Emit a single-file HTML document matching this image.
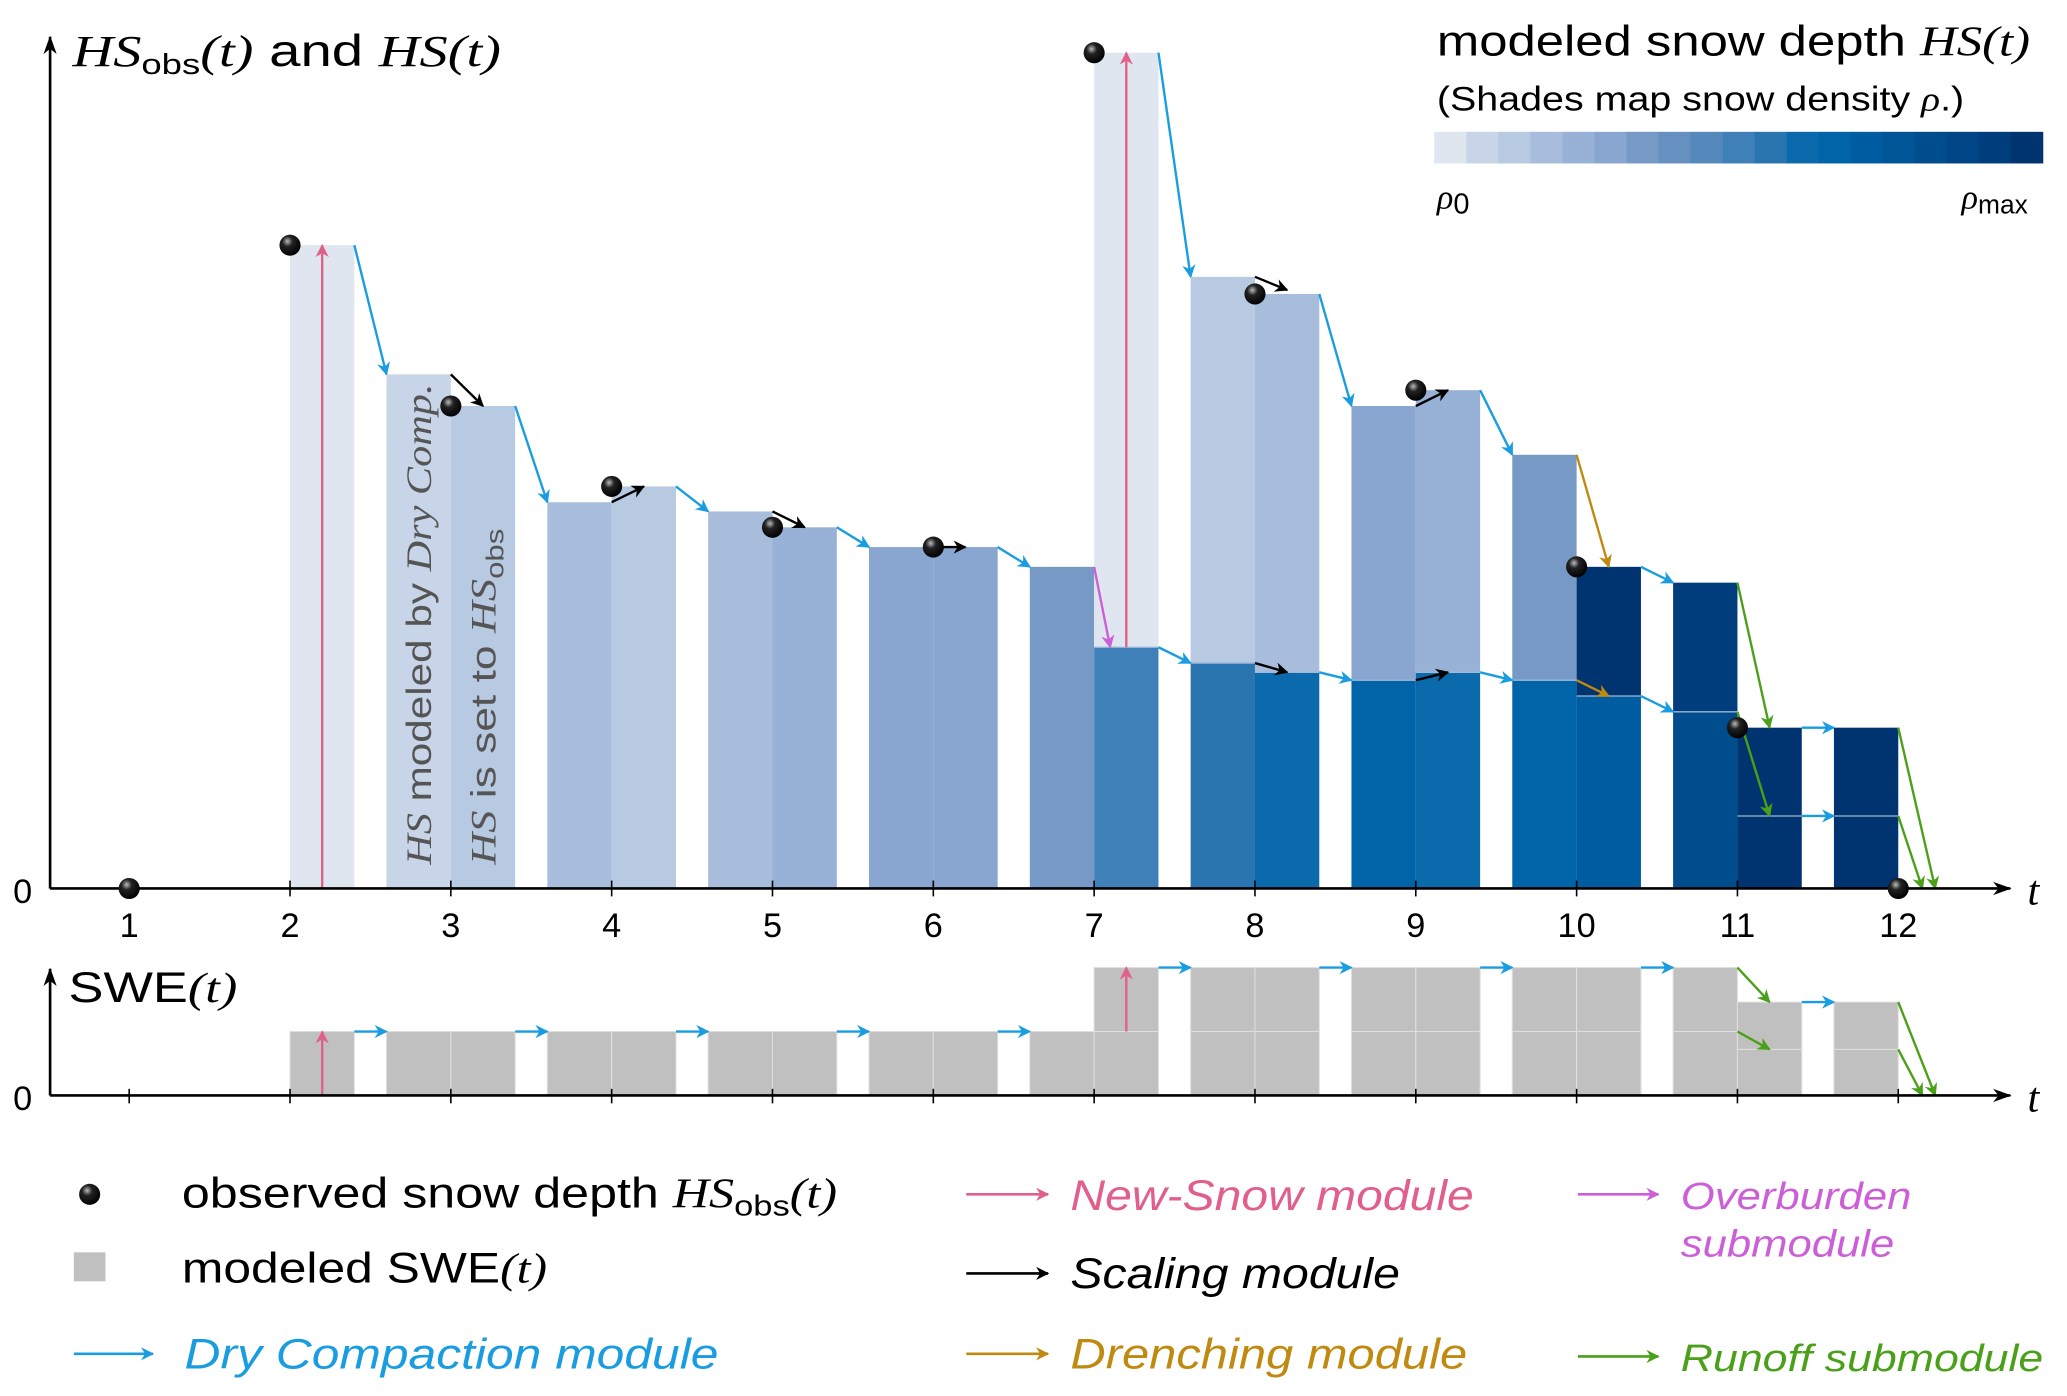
<!DOCTYPE html>
<html><head><meta charset="utf-8"><style>
html,body{margin:0;padding:0;background:#fff;}
svg{display:block;font-family:"Liberation Sans","DejaVu Sans",sans-serif;}
.it{font-family:"Liberation Serif",serif;font-style:italic;}
</style></head><body>
<svg id="chart" width="2067" height="1396" viewBox="0 0 1568 1059" preserveAspectRatio="none" xmlns="http://www.w3.org/2000/svg">
<defs>
<marker id="m-blue" markerWidth="10" markerHeight="10" refX="9" refY="5" orient="auto" markerUnits="userSpaceOnUse"><path d="M0,0 L10,5 L0,10 L3,5 Z" fill="#1a9de0"/></marker>
<marker id="m-black" markerWidth="10" markerHeight="10" refX="9" refY="5" orient="auto" markerUnits="userSpaceOnUse"><path d="M0,0 L10,5 L0,10 L3,5 Z" fill="#000"/></marker>
<marker id="m-pink" markerWidth="10" markerHeight="10" refX="9" refY="5" orient="auto" markerUnits="userSpaceOnUse"><path d="M0,0 L10,5 L0,10 L3,5 Z" fill="#e0608a"/></marker>
<marker id="m-mag" markerWidth="10" markerHeight="10" refX="9" refY="5" orient="auto" markerUnits="userSpaceOnUse"><path d="M0,0 L10,5 L0,10 L3,5 Z" fill="#cc5fd8"/></marker>
<marker id="m-gold" markerWidth="10" markerHeight="10" refX="9" refY="5" orient="auto" markerUnits="userSpaceOnUse"><path d="M0,0 L10,5 L0,10 L3,5 Z" fill="#c08a10"/></marker>
<marker id="m-green" markerWidth="10" markerHeight="10" refX="9" refY="5" orient="auto" markerUnits="userSpaceOnUse"><path d="M0,0 L10,5 L0,10 L3,5 Z" fill="#4aa018"/></marker>
<marker id="m-axis" markerWidth="14" markerHeight="10" refX="13" refY="5" orient="auto" markerUnits="userSpaceOnUse"><path d="M0,0 L14,5 L0,10 L4,5 Z" fill="#000"/></marker>
<radialGradient id="ball" cx="0.38" cy="0.32" r="0.7"><stop offset="0" stop-color="#bbb"/><stop offset="0.35" stop-color="#222"/><stop offset="1" stop-color="#000"/></radialGradient>
</defs>
<g id="hs-bars"></g>
<g id="swe-bars"></g>
<g id="arrows"></g>
<g id="axes"></g>
<g id="dots"></g>
<g fill="#555" font-size="27">
<text transform="translate(327,656) rotate(-90)" textLength="365" lengthAdjust="spacingAndGlyphs"><tspan class="it">HS</tspan> modeled by <tspan class="it">Dry Comp.</tspan></text>
<text transform="translate(376,656) rotate(-90)" textLength="255" lengthAdjust="spacingAndGlyphs"><tspan class="it">HS</tspan> is set to <tspan class="it">HS</tspan><tspan font-size="19" dy="6">obs</tspan></text>
</g>
<text x="55" y="50" font-size="34" textLength="325" lengthAdjust="spacingAndGlyphs"><tspan class="it">HS</tspan><tspan font-size="22" dy="6">obs</tspan><tspan dy="-6" class="it">(t)</tspan> and <tspan class="it">HS</tspan><tspan class="it">(t)</tspan></text>
<text x="52" y="760" font-size="32" textLength="128" lengthAdjust="spacingAndGlyphs">SWE<tspan class="it">(t)</tspan></text>
<text x="10" y="685" font-size="26">0</text>
<text x="10" y="842" font-size="26">0</text>
<text x="1538" y="686" font-size="32" class="it">t</text>
<text x="1538" y="843" font-size="32" class="it">t</text>
<g>
<text x="1090" y="42" font-size="32" textLength="450" lengthAdjust="spacingAndGlyphs">modeled snow depth <tspan class="it">HS(t)</tspan></text>
<text x="1090" y="84" font-size="26" textLength="400" lengthAdjust="spacingAndGlyphs">(Shades map snow density <tspan class="it">ρ</tspan>.)</text>
<g id="colorbar"></g>
<text x="1090" y="158" font-size="26"><tspan class="it">ρ</tspan><tspan dy="4" font-size="22">0</tspan></text>
<text x="1488" y="158" font-size="26"><tspan class="it">ρ</tspan><tspan dy="4" font-size="20">max</tspan></text>
</g>
<g font-size="32">
<circle cx="68" cy="906" r="8" fill="url(#ball)"/>
<text x="138" y="916" textLength="497" lengthAdjust="spacingAndGlyphs">observed snow depth <tspan class="it">HS</tspan><tspan font-size="22" dy="6">obs</tspan><tspan dy="-6" class="it">(t)</tspan></text>
<rect x="56" y="950" width="24" height="22" fill="#c0c0c0"/>
<text x="138" y="973" textLength="277" lengthAdjust="spacingAndGlyphs">modeled SWE<tspan class="it">(t)</tspan></text>
<line x1="56" y1="1027" x2="116" y2="1027" stroke="#1a9de0" stroke-width="2" marker-end="url(#m-blue)"/>
<text x="140" y="1038" fill="#1a9de0" font-style="italic" textLength="405" lengthAdjust="spacingAndGlyphs">Dry Compaction module</text>
<line x1="733" y1="906" x2="795" y2="906" stroke="#e0608a" stroke-width="2" marker-end="url(#m-pink)"/>
<text x="812" y="918" fill="#e0608a" font-style="italic" textLength="306" lengthAdjust="spacingAndGlyphs">New-Snow module</text>
<line x1="733" y1="966" x2="795" y2="966" stroke="#000" stroke-width="2" marker-end="url(#m-black)"/>
<text x="812" y="977" font-style="italic" textLength="250" lengthAdjust="spacingAndGlyphs">Scaling module</text>
<line x1="733" y1="1027" x2="795" y2="1027" stroke="#c08a10" stroke-width="2" marker-end="url(#m-gold)"/>
<text x="812" y="1038" fill="#c08a10" font-style="italic" textLength="301" lengthAdjust="spacingAndGlyphs">Drenching module</text>
<line x1="1197" y1="906" x2="1258" y2="906" stroke="#cc5fd8" stroke-width="2" marker-end="url(#m-mag)"/>
<text x="1275" y="917" fill="#cc5fd8" font-style="italic" font-size="29" textLength="175" lengthAdjust="spacingAndGlyphs">Overburden</text>
<text x="1275" y="953" fill="#cc5fd8" font-style="italic" font-size="29" textLength="162" lengthAdjust="spacingAndGlyphs">submodule</text>
<line x1="1197" y1="1029" x2="1258" y2="1029" stroke="#4aa018" stroke-width="2" marker-end="url(#m-green)"/>
<text x="1275" y="1040" fill="#4aa018" font-style="italic" font-size="29" textLength="275" lengthAdjust="spacingAndGlyphs">Runoff submodule</text>
</g>
</svg>
<script>
const NS='http://www.w3.org/2000/svg';
const shades=['#dfe6f0','#c8d4e7','#b8c9e2','#a8bddb','#98b1d6','#88a6cf','#7699c6','#6690c0','#5689bb','#4080b8','#2a74b0','#0a6aab','#0064a8','#005ca0','#005597','#004d8e','#004585','#003d7c','#003470'];
const tickLabels=['1','2','3','4','5','6','7','8','9','10','11','12'];
// HS bar segments: period t, side (-1 left / +1 right), low, high, shade index
const barT   =[2, 3,3, 4,4, 5,5, 6,6, 7, 7,7, 8,8,8,8, 9,9,9,9, 10,10,10,10, 11,11,11,11, 12,12];
const barSide=[1,-1,1,-1,1,-1,1,-1,1,-1, 1,1,-1,-1,1,1,-1,-1,1,1, -1,-1,1,1, -1,-1,1,1, -1,-1];
const barLow =[0, 0,0, 0,0, 0,0, 0,0, 0, 0,18.3, 0,17.1,0,16.4, 0,15.8,0,16.4, 0,15.8,0,14.6, 0,13.4,0,5.5, 0,5.5];
const barHigh=[48.8,39,36.6,29.3,30.5,28.6,27.4,25.9,25.9,24.4, 18.3,63.4, 17.1,46.4,16.4,45.1, 15.8,36.6,16.4,37.8, 15.8,32.9,14.6,24.4, 13.4,23.2,5.5,12.2, 5.5,12.2];
const barShade=[0,1,2,3,2,3,4,5,5,6, 9,0, 10,2,11,3, 12,5,11,4, 12,6,13,18, 15,17,18,18, 18,18];
// SWE segments
const sweT   =[2,3,3,4,4,5,5,6,6,7,7,7,8,8,8,8,9,9,9,9,10,10,10,10,11,11,11,11,12,12];
const sweSide=[1,-1,1,-1,1,-1,1,-1,1,-1,1,1,-1,-1,1,1,-1,-1,1,1,-1,-1,1,1,-1,-1,1,1,-1,-1];
const sweLow =[0,0,0,0,0,0,0,0,0,0,0,1,0,1,0,1,0,1,0,1,0,1,0,1,0,1,0,0.72,0,0.72];
const sweHigh=[1,1,1,1,1,1,1,1,1,1,1,2,1,2,1,2,1,2,1,2,1,2,1,2,1,2,0.72,1.46,0.72,1.46];
// observed snow depth
const obsT=[1,2,3,4,5,6,7,8,9,10,11,12];
const obsHS=[0,48.8,36.6,30.5,27.4,25.9,63.4,45.1,37.8,24.4,12.2,0];
const xS=t=>98+(t-1)*122;
const yH=v=>674-v*10;
const yW=v=>831-v*48.5;
const BW=0.4;
function el(tag,attrs,parent){const e=document.createElementNS(NS,tag);for(const k in attrs)e.setAttribute(k,attrs[k]);parent.appendChild(e);return e;}
const gH=document.getElementById('hs-bars');
barT.forEach((t,i)=>{
  const x0=barSide[i]<0?xS(t-BW):xS(t);
  const r=el('rect',{x:x0,y:yH(barHigh[i]),width:xS(t+BW)-xS(t),height:yH(barLow[i])-yH(barHigh[i]),fill:shades[barShade[i]]},gH);
  
  
  if(barLow[i]>0){const l=el('line',{x1:x0,x2:x0+48.8,y1:yH(barLow[i]),y2:yH(barLow[i]),stroke:'#9fb8d8','stroke-width':1},gH);
    
    }
});
const gW=document.getElementById('swe-bars');
sweT.forEach((t,i)=>{
  const x0=sweSide[i]<0?xS(t-BW):xS(t);
  const r=el('rect',{x:x0,y:yW(sweHigh[i]),width:48.8,height:yW(sweLow[i])-yW(sweHigh[i]),fill:'#c0c0c0',stroke:'#dedede','stroke-width':0.8},gW);
  
  
});
const gC=document.getElementById('colorbar');
shades.forEach((c,i)=>{const r=el('rect',{x:1088+i*24.3,y:100,width:24.6,height:24,fill:c},gC);
  
  });
const gA=document.getElementById('axes');
[[38,674,1525,674],[38,674,38,28],[38,831,1525,831],[38,831,38,735]].forEach(a=>{
  const l=el('line',{x1:a[0],y1:a[1],x2:a[2],y2:a[3],stroke:'#000','stroke-width':2,'marker-end':'url(#m-axis)'},gA);
  
  });
tickLabels.forEach((lb,i)=>{const x=xS(i+1);
  const tk=el('line',{x1:x,x2:x,y1:668,y2:680,stroke:'#000','stroke-width':1.2},gA);
  
  
  const tk2=el('line',{x1:x,x2:x,y1:826,y2:837,stroke:'#000','stroke-width':1.2},gA);
  
  
  const tx=el('text',{x:x,y:711,'text-anchor':'middle','font-size':26},gA);tx.textContent=lb;
  
  });
const arrowsHS=[
 [2.4,48.8,2.6,39,'blue'],[3.4,36.6,3.6,29.3,'blue'],[4.4,30.5,4.6,28.6,'blue'],[5.4,27.4,5.6,25.9,'blue'],[6.4,25.9,6.6,24.4,'blue'],
 [7.4,63.4,7.6,46.4,'blue'],[7.4,18.3,7.6,17.1,'blue'],[8.4,45.1,8.6,36.6,'blue'],[8.4,16.4,8.6,15.8,'blue'],[9.4,37.8,9.6,32.9,'blue'],[9.4,16.4,9.6,15.8,'blue'],
 [10.4,24.4,10.6,23.2,'blue'],[10.4,14.6,10.6,13.4,'blue'],[11.4,12.2,11.6,12.2,'blue'],[11.4,5.5,11.6,5.5,'blue'],
 [3.0,39,3.2,36.6,'black'],[4.0,29.3,4.2,30.5,'black'],[5.0,28.6,5.2,27.4,'black'],[6.0,25.9,6.2,25.9,'black'],[8.0,46.4,8.2,45.4,'black'],[8.0,17.1,8.2,16.4,'black'],[9.0,36.6,9.2,37.8,'black'],[9.0,15.8,9.2,16.4,'black'],
 [2.2,0,2.2,48.8,'pink'],[7.2,18.3,7.2,63.4,'pink'],[7.0,24.4,7.1,18.3,'mag'],
 [10.0,32.9,10.2,24.4,'gold'],[10.0,15.8,10.2,14.6,'gold'],
 [11.0,23.2,11.2,12.2,'green'],[11.0,13.4,11.2,5.5,'green'],[12.0,12.2,12.23,0,'green'],[12.0,5.5,12.15,0,'green']];
const arrowsSWE=[
 [2.4,1,2.6,1,'blue'],[3.4,1,3.6,1,'blue'],[4.4,1,4.6,1,'blue'],[5.4,1,5.6,1,'blue'],[6.4,1,6.6,1,'blue'],
 [7.4,2,7.6,2,'blue'],[8.4,2,8.6,2,'blue'],[9.4,2,9.6,2,'blue'],[10.4,2,10.6,2,'blue'],[11.4,1.46,11.6,1.46,'blue'],
 [2.2,0,2.2,1,'pink'],[7.2,1,7.2,2,'pink'],
 [11.0,2,11.2,1.46,'green'],[11.0,1,11.2,0.72,'green'],[12.0,1.46,12.23,0,'green'],[12.0,0.72,12.15,0,'green']];
const colors={blue:'#1a9de0',black:'#000',pink:'#e0608a',mag:'#cc5fd8',gold:'#c08a10',green:'#4aa018'};
const gR=document.getElementById('arrows');
function drawArrow(a,yf){const l=el('line',{x1:xS(a[0]),y1:yf(a[1]),x2:xS(a[2]),y2:yf(a[3]),stroke:colors[a[4]],'stroke-width':1.8,'marker-end':'url(#m-'+a[4]+')'},gR);
  
  }
arrowsHS.forEach(a=>drawArrow(a,yH));
arrowsSWE.forEach(a=>drawArrow(a,yW));
const gD=document.getElementById('dots');
obsT.forEach((t,i)=>{const c=el('circle',{cx:xS(t),cy:yH(obsHS[i]),r:8,fill:'url(#ball)'},gD);
  
  });
</script>
</body></html>
